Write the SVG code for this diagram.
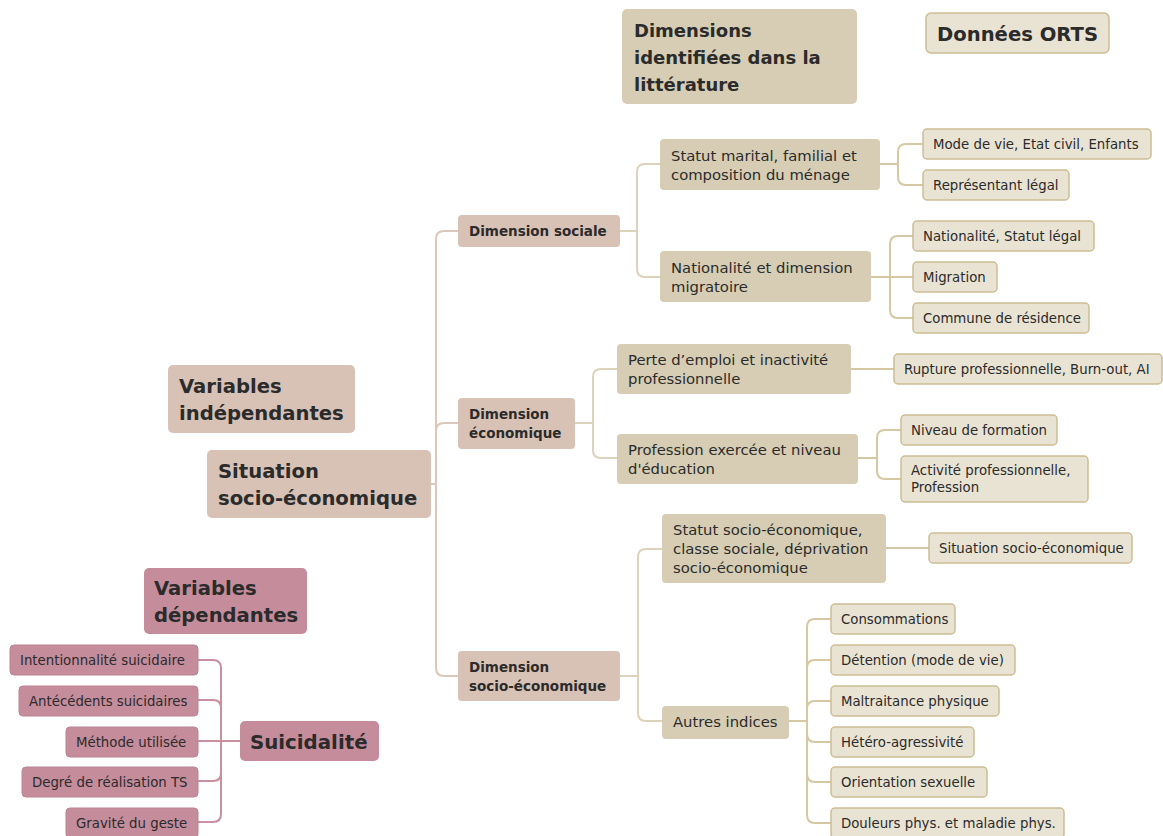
<svg xmlns="http://www.w3.org/2000/svg" width="1163" height="836" viewBox="0 0 1163 836">
<style>
text{font-family:"DejaVu Sans","Noto Sans",sans-serif;fill:#2b2b2b}
.big{font-size:19.6px;font-weight:bold}
.hdr{font-size:18px;font-weight:bold}
.l1{font-size:13.5px;font-weight:bold}
.l2{font-size:14.8px}
.l3{font-size:13.3px}
.olive{fill:#d6cdb4}
.light{fill:#e9e3d3;stroke:#cbbd94;stroke-width:1.5}
.pb{fill:#d8c1b5}
.mauve{fill:#c58c9c}
.mleaf{fill:#c58c9c;stroke:#bb8393;stroke-width:1}
.c0{fill:none;stroke:#dcc8bb;stroke-width:2}
.c1{fill:none;stroke:#ddd3bb;stroke-width:2}
.c2{fill:none;stroke:#d5c8a2;stroke-width:2}
.cm{fill:none;stroke:#c88f9f;stroke-width:2}
</style>
<rect width="1163" height="836" fill="#ffffff"/>
<g id="connectors">
<path class="c0" d="M431,484 H436 V239 Q436,231 444,231 H458"/>
<path class="c0" d="M431,484 H436 V431 Q436,423 444,423 H458"/>
<path class="c0" d="M431,484 H436 V668 Q436,676 444,676 H458"/>
<path class="c1" d="M620,231 H637 V172 Q637,164 645,164 H660"/>
<path class="c1" d="M620,231 H637 V269 Q637,277 645,277 H660"/>
<path class="c1" d="M575,423 H593 V377 Q593,369 601,369 H617"/>
<path class="c1" d="M575,423 H593 V450 Q593,458 601,458 H617"/>
<path class="c1" d="M620,676 H638 V557 Q638,549 646,549 H662"/>
<path class="c1" d="M620,676 H638 V713 Q638,721 646,721 H662"/>
<path class="c2" d="M880,164 H898 V152 Q898,144 906,144 H923"/>
<path class="c2" d="M880,164 H898 V177 Q898,185 906,185 H923"/>
<path class="c2" d="M871,277 H890 V244 Q890,236 898,236 H913"/>
<path class="c2" d="M871,277 H913"/>
<path class="c2" d="M871,277 H890 V310 Q890,318 898,318 H913"/>
<path class="c2" d="M851,369 H894"/>
<path class="c2" d="M858,458 H877 V438 Q877,430 885,430 H901"/>
<path class="c2" d="M858,458 H877 V471 Q877,479 885,479 H901"/>
<path class="c2" d="M886,548 H929"/>
<path class="c2" d="M789,721 H807 V627 Q807,619 815,619 H831"/>
<path class="c2" d="M789,721 H807 V668 Q807,660 815,660 H831"/>
<path class="c2" d="M789,721 H807 V709 Q807,701 815,701 H831"/>
<path class="c2" d="M789,721 H807 V734 Q807,742 815,742 H831"/>
<path class="c2" d="M789,721 H807 V774 Q807,782 815,782 H831"/>
<path class="c2" d="M789,721 H807 V815 Q807,823 815,823 H831"/>
<path class="cm" d="M240,741 H221 V668 Q221,660 213,660 H198"/>
<path class="cm" d="M240,741 H221 V708 Q221,700 213,700 H198"/>
<path class="cm" d="M240,741 H198"/>
<path class="cm" d="M240,741 H221 V773 Q221,781 213,781 H198"/>
<path class="cm" d="M240,741 H221 V814 Q221,822 213,822 H198"/>
</g>
<g id="hdr-dimensions"><rect class="olive" x="622" y="9" width="235" height="95" rx="5"/><text class="hdr" x="634" y="37">Dimensions</text><text class="hdr" x="634" y="64">identifiées dans la</text><text class="hdr" x="634" y="91">littérature</text></g>
<g id="hdr-orts"><rect class="light" x="926" y="13" width="183" height="40" rx="5"/><text class="big" x="937" y="41">Données ORTS</text></g>
<g id="var-indep"><rect class="pb" x="168" y="365" width="187" height="68" rx="5"/><text class="big" x="179" y="393">Variables</text><text class="big" x="179" y="420">indépendantes</text></g>
<g id="root"><rect class="pb" x="207" y="450" width="224" height="68" rx="5"/><text class="big" x="218" y="478">Situation</text><text class="big" x="218" y="505">socio-économique</text></g>
<g id="var-dep"><rect class="mauve" x="144" y="568" width="163" height="66" rx="5"/><text class="big" x="154" y="595">Variables</text><text class="big" x="154" y="622">dépendantes</text></g>
<g id="suicidalite"><rect class="mauve" x="240" y="721" width="139" height="40" rx="5"/><text class="big" x="250" y="749" style="font-size:19.8px">Suicidalité</text></g>
<g id="s1"><rect class="mleaf" x="10" y="645" width="188" height="30" rx="4"/><text class="l3" x="20" y="665">Intentionnalité suicidaire</text></g>
<g id="s2"><rect class="mleaf" x="19" y="686" width="179" height="30" rx="4"/><text class="l3" x="29" y="706">Antécédents suicidaires</text></g>
<g id="s3"><rect class="mleaf" x="66" y="727" width="132" height="30" rx="4"/><text class="l3" x="76" y="747">Méthode utilisée</text></g>
<g id="s4"><rect class="mleaf" x="22" y="767" width="176" height="30" rx="4"/><text class="l3" x="32" y="787">Degré de réalisation TS</text></g>
<g id="s5"><rect class="mleaf" x="66" y="808" width="132" height="30" rx="4"/><text class="l3" x="76" y="828">Gravité du geste</text></g>
<g id="dim-sociale"><rect class="pb" x="458" y="215" width="162" height="32" rx="4"/><text class="l1" x="469" y="236">Dimension sociale</text></g>
<g id="dim-eco"><rect class="pb" x="458" y="398" width="117" height="51" rx="4"/><text class="l1" x="469" y="419">Dimension</text><text class="l1" x="469" y="438">économique</text></g>
<g id="dim-socioeco"><rect class="pb" x="458" y="651" width="162" height="50" rx="4"/><text class="l1" x="469" y="672">Dimension</text><text class="l1" x="469" y="691">socio-économique</text></g>
<g id="statut-marital"><rect class="olive" x="660" y="139" width="220" height="51" rx="4"/><text class="l2" x="671" y="161">Statut marital, familial et</text><text class="l2" x="671" y="180">composition du ménage</text></g>
<g id="nationalite-dim"><rect class="olive" x="660" y="251" width="211" height="51" rx="4"/><text class="l2" x="671" y="273">Nationalité et dimension</text><text class="l2" x="671" y="292">migratoire</text></g>
<g id="perte-emploi"><rect class="olive" x="617" y="344" width="234" height="50" rx="4"/><text class="l2" x="628" y="365">Perte d’emploi et inactivité</text><text class="l2" x="628" y="384">professionnelle</text></g>
<g id="profession"><rect class="olive" x="617" y="434" width="241" height="50" rx="4"/><text class="l2" x="628" y="455">Profession exercée et niveau</text><text class="l2" x="628" y="474">d'éducation</text></g>
<g id="statut-socio"><rect class="olive" x="662" y="514" width="224" height="69" rx="4"/><text class="l2" x="673" y="535">Statut socio-économique,</text><text class="l2" x="673" y="554">classe sociale, déprivation</text><text class="l2" x="673" y="573">socio-économique</text></g>
<g id="autres"><rect class="olive" x="662" y="706" width="127" height="33" rx="4"/><text class="l2" x="673" y="727">Autres indices</text></g>
<g id="n-mode"><rect class="light" x="923" y="129" width="228" height="30" rx="4"/><text class="l3" x="933" y="149">Mode de vie, Etat civil, Enfants</text></g>
<g id="n-rep"><rect class="light" x="923" y="170" width="146" height="30" rx="4"/><text class="l3" x="933" y="190">Représentant légal</text></g>
<g id="n-nat"><rect class="light" x="913" y="221" width="181" height="30" rx="4"/><text class="l3" x="923" y="241">Nationalité, Statut légal</text></g>
<g id="n-mig"><rect class="light" x="913" y="262" width="84" height="30" rx="4"/><text class="l3" x="923" y="282">Migration</text></g>
<g id="n-com"><rect class="light" x="913" y="303" width="176" height="30" rx="4"/><text class="l3" x="923" y="323">Commune de résidence</text></g>
<g id="n-rupt"><rect class="light" x="894" y="354" width="268" height="30" rx="4"/><text class="l3" x="904" y="374">Rupture professionnelle, Burn-out, AI</text></g>
<g id="n-niv"><rect class="light" x="901" y="415" width="156" height="30" rx="4"/><text class="l3" x="911" y="435">Niveau de formation</text></g>
<g id="n-act"><rect class="light" x="901" y="456" width="187" height="46" rx="4"/><text class="l3" x="911" y="475">Activité professionnelle,</text><text class="l3" x="911" y="492">Profession</text></g>
<g id="n-sit"><rect class="light" x="929" y="533" width="203" height="30" rx="4"/><text class="l3" x="939" y="553">Situation socio-économique</text></g>
<g id="n-cons"><rect class="light" x="831" y="604" width="124" height="30" rx="4"/><text class="l3" x="841" y="624">Consommations</text></g>
<g id="n-det"><rect class="light" x="831" y="645" width="184" height="30" rx="4"/><text class="l3" x="841" y="665">Détention (mode de vie)</text></g>
<g id="n-mal"><rect class="light" x="831" y="686" width="168" height="30" rx="4"/><text class="l3" x="841" y="706">Maltraitance physique</text></g>
<g id="n-het"><rect class="light" x="831" y="727" width="143" height="30" rx="4"/><text class="l3" x="841" y="747">Hétéro-agressivité</text></g>
<g id="n-ori"><rect class="light" x="831" y="767" width="156" height="30" rx="4"/><text class="l3" x="841" y="787">Orientation sexuelle</text></g>
<g id="n-doul"><rect class="light" x="831" y="808" width="233" height="30" rx="4"/><text class="l3" x="841" y="828">Douleurs phys. et maladie phys.</text></g>
</svg>
